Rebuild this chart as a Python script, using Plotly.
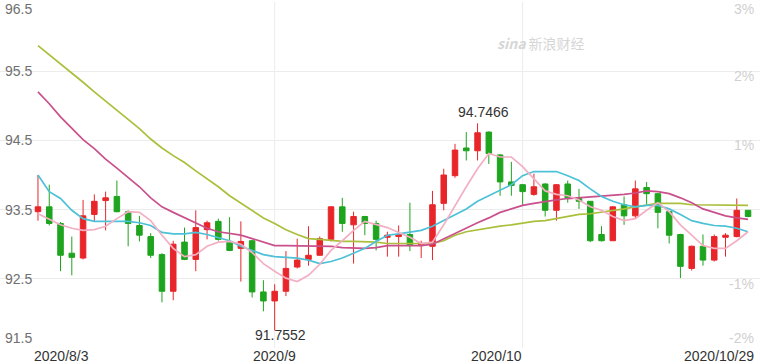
import pandas as pd
import plotly.graph_objects as go

# ---------------- data ----------------
dates = pd.bdate_range("2020-08-03", "2020-10-29")
date_labels = [d.strftime("%Y/%-m/%-d") for d in dates]

opens = [93.47, 93.54, 93.30, 92.87, 92.80, 93.43, 93.63, 93.69, 93.47, 93.27,
         93.11, 92.85, 92.32, 93.03, 92.78, 93.21, 93.33, 93.04, 92.94, 93.05,
         92.31, 92.18, 92.32, 92.67, 92.78, 92.84, 93.07, 93.54, 93.28, 93.40,
         93.30, 93.10, 93.11, 93.14, 92.98, 92.97, 93.59, 93.99, 94.39, 94.35,
         94.62, 94.29, 93.90, 93.86, 93.72, 93.87, 93.49, 93.87, 93.66, 93.62,
         93.14, 93.05, 93.57, 93.41, 93.82, 93.73, 93.47, 93.14, 92.65, 92.97,
         92.77, 93.10, 93.11, 93.49]
highs = [94.00, 93.86, 93.32, 93.11, 93.64, 93.72, 93.76, 93.92, 93.49, 93.41,
         93.16, 92.87, 93.05, 93.24, 93.49, 93.34, 93.37, 93.39, 93.33, 93.06,
         92.48, 92.42, 92.90, 93.08, 93.26, 93.11, 93.55, 93.67, 93.47, 93.41,
         93.34, 93.18, 93.27, 93.60, 93.05, 93.77, 94.09, 94.45, 94.62, 94.7466,
         94.63, 94.30, 94.19, 93.87, 94.02, 93.88, 93.87, 93.92, 93.80, 93.62,
         93.26, 93.55, 93.69, 93.92, 93.90, 93.74, 93.48, 93.15, 92.98, 93.14,
         93.14, 93.16, 93.66, 93.49]
lows = [93.34, 93.27, 92.61, 92.55, 92.78, 93.33, 93.20, 93.46, 92.97, 93.04,
        92.80, 92.16, 92.19, 92.77, 92.61, 93.07, 93.05, 92.90, 92.46, 92.23,
        92.03, 91.7552, 92.25, 92.65, 92.69, 92.83, 93.04, 93.18, 92.72, 93.13,
        92.91, 92.82, 92.82, 92.90, 92.80, 92.77, 93.49, 93.96, 94.21, 94.21,
        94.16, 93.70, 93.70, 93.56, 93.70, 93.40, 93.34, 93.60, 93.51, 93.03,
        93.04, 93.05, 93.28, 93.37, 93.57, 93.23, 93.01, 92.51, 92.62, 92.69,
        92.75, 92.82, 93.10, 93.39]
closes = [93.54, 93.30, 92.84, 92.81, 93.41, 93.62, 93.67, 93.47, 93.30, 93.13,
          92.84, 92.32, 93.00, 92.78, 93.24, 93.31, 93.07, 92.91, 93.04, 92.31,
          92.18, 92.32, 92.65, 92.77, 92.84, 93.08, 93.54, 93.30, 93.40, 93.30,
          93.07, 93.13, 93.14, 92.98, 93.01, 93.57, 94.00, 94.36, 94.35, 94.61,
          94.31, 93.90, 93.85, 93.76, 93.83, 93.49, 93.86, 93.67, 93.62, 93.05,
          93.05, 93.54, 93.41, 93.80, 93.73, 93.46, 93.13, 92.68, 92.97, 92.77,
          93.11, 93.13, 93.49, 93.40]

ma5 = [93.44, 93.36, 93.28, 93.23, 93.20, 93.21, 93.26, 93.37, 93.47, 93.46,
       93.34, 93.13, 92.94, 92.82, 92.85, 92.97, 93.03, 93.04, 93.00, 92.88,
       92.72, 92.61, 92.51, 92.46, 92.55, 92.71, 92.91, 93.05, 93.20, 93.33,
       93.28, 93.24, 93.17, 93.10, 93.01, 93.03, 93.28, 93.56, 93.83, 94.09,
       94.31, 94.26, 94.26, 94.12, 93.95, 93.77, 93.72, 93.70, 93.64, 93.54,
       93.49, 93.40, 93.34, 93.37, 93.49, 93.60, 93.47, 93.28, 93.13, 92.98,
       92.94, 92.94, 93.05, 93.18]
ma10 = [94.00, 93.76, 93.66, 93.49, 93.37, 93.33, 93.33, 93.33, 93.33, 93.31,
        93.27, 93.17, 93.15, 93.15, 93.17, 93.14, 93.10, 93.05, 92.97, 92.91,
        92.85, 92.82, 92.81, 92.80, 92.77, 92.72, 92.75, 92.80, 92.87, 92.94,
        93.04, 93.13, 93.15, 93.18, 93.20, 93.26, 93.34, 93.43, 93.51, 93.62,
        93.70, 93.79, 93.86, 93.99, 94.05, 94.05, 94.05, 93.99, 93.92, 93.80,
        93.69, 93.62, 93.57, 93.54, 93.56, 93.56, 93.51, 93.43, 93.34, 93.30,
        93.27, 93.26, 93.23, 93.18]
ma20 = [95.20, 95.03, 94.84, 94.67, 94.51, 94.38, 94.23, 94.10, 93.97, 93.83,
        93.67, 93.54, 93.46, 93.38, 93.31, 93.23, 93.18, 93.15, 93.13, 93.08,
        93.03, 92.98, 92.98, 92.98, 92.98, 92.97, 92.97, 92.95, 92.94, 92.94,
        92.95, 92.98, 92.98, 92.98, 92.98, 93.00, 93.08, 93.15, 93.23, 93.31,
        93.38, 93.46, 93.51, 93.56, 93.59, 93.62, 93.64, 93.66, 93.67, 93.69,
        93.69, 93.70, 93.72, 93.74, 93.77, 93.76, 93.73, 93.67, 93.60, 93.51,
        93.46, 93.41, 93.38, 93.36]
ma30 = [95.87, 95.74, 95.60, 95.47, 95.34, 95.20, 95.07, 94.94, 94.81, 94.67,
        94.52, 94.39, 94.28, 94.18, 94.06, 93.95, 93.83, 93.70, 93.59, 93.49,
        93.38, 93.30, 93.21, 93.14, 93.08, 93.07, 93.05, 93.04, 93.04, 93.04,
        93.03, 93.01, 93.01, 93.01, 93.01, 93.01, 93.05, 93.13, 93.18, 93.21,
        93.23, 93.26, 93.28, 93.31, 93.33, 93.34, 93.37, 93.40, 93.43, 93.44,
        93.46, 93.49, 93.51, 93.54, 93.57, 93.59, 93.59, 93.59, 93.57, 93.57,
        93.56, 93.56, 93.56, 93.56]

price_ticks = [91.5, 92.5, 93.5, 94.5, 95.5, 96.5]
price_tick_labels = ["91.5", "92.5", "93.5", "94.5", "95.5", "96.5"]
pct_tick_labels = ["-2%", "-1%", "", "1%", "2%", "3%"]
x_tick_labels = ["2020/8/3", "2020/9", "2020/10", "2020/10/29"]
x_tick_dates = ["2020/8/3", "2020/9/1", "2020/10/1", "2020/10/29"]
month_lines = ["2020/9/1", "2020/10/1"]

# ---------------- styling ----------------
RED = "#e8262a"
GREEN = "#1ea41e"
FONT = "Liberation Sans, Arial, sans-serif"

x = list(range(len(dates)))
idx = {lab: i for i, lab in enumerate(date_labels)}

fig = go.Figure()

for name, vals, col in [("MA30", ma30, "#abbf3b"), ("MA20", ma20, "#c9508c"),
                        ("MA10", ma10, "#4cc1d7"), ("MA5", ma5, "#f3afc3")]:
    fig.add_trace(go.Scatter(x=x, y=vals, mode="lines", name=name,
                             line=dict(color=col, width=1.7), hoverinfo="skip"))

fig.add_trace(go.Candlestick(
    x=x, open=opens, high=highs, low=lows, close=closes,
    increasing=dict(line=dict(color=RED, width=1), fillcolor=RED),
    decreasing=dict(line=dict(color=GREEN, width=1), fillcolor=GREEN),
    whiskerwidth=0, name="K"))

shapes = []
for m in month_lines:
    shapes.append(dict(type="line", xref="x", yref="paper", x0=idx[m], x1=idx[m],
                       y0=0, y1=1, line=dict(color="#ececec", width=1), layer="below"))

annotations = []
n = len(price_ticks)
for k, (v, lab, pl) in enumerate(zip(price_ticks, price_tick_labels, pct_tick_labels)):
    ys = 0
    if k == 0:
        ys = 10
    elif k == n - 1:
        ys = -7
    annotations.append(dict(xref="paper", yref="y", x=0, y=v, text=lab,
                            xanchor="left", yanchor="middle", xshift=3, yshift=ys,
                            showarrow=False, font=dict(family=FONT, size=14, color="#6f6f6f")))
    if pl:
        annotations.append(dict(xref="paper", yref="y", x=1, y=v, text=pl,
                                xanchor="right", yanchor="middle", xshift=-4,
                                yshift=(ys if k in (0, n - 1) else -5),
                                showarrow=False,
                                font=dict(family=FONT, size=14, color="#cfcfcf")))

anchors = ["left", "center", "center", "right"]
shifts = [-5, 0, -26, 7]
for lab, d, a, s in zip(x_tick_labels, x_tick_dates, anchors, shifts):
    annotations.append(dict(xref="x", yref="paper", x=idx[d], y=0, text=lab,
                            xanchor=a, yanchor="top", xshift=s, yshift=1, borderpad=0,
                            showarrow=False, font=dict(family=FONT, size=14, color="#333333")))

# max / min labels
imax = highs.index(max(highs))
imin = lows.index(min(lows))
annotations.append(dict(x=imax, y=highs[imax], text=f"{highs[imax]:.4f}", xanchor="center",
                        yanchor="bottom", xshift=6, yshift=1, showarrow=False,
                        font=dict(family=FONT, size=14, color="#333333")))
annotations.append(dict(x=imin, y=lows[imin], text=f"{lows[imin]:.4f}", xanchor="center",
                        yanchor="top", xshift=6, yshift=4, borderpad=0, showarrow=False,
                        font=dict(family=FONT, size=14, color="#333333")))
# watermark
annotations.append(dict(xref="paper", yref="paper", x=587 / 760, y=1 - 30 / 364,
                        text="<i><b>sina</b></i> 新浪财经", showarrow=False,
                        font=dict(family="Noto Sans CJK SC, sans-serif", size=14, color="#d6d6d6")))

fig.update_layout(
    width=760, height=364,
    margin=dict(l=0, r=0, t=2, b=16),
    paper_bgcolor="white", plot_bgcolor="white",
    showlegend=False,
    shapes=shapes, annotations=annotations,
    xaxis=dict(range=[-3.37, 64.06], showgrid=False, zeroline=False,
               showticklabels=False, rangeslider=dict(visible=False), fixedrange=True),
    yaxis=dict(range=[91.5, 96.5], tickvals=price_ticks, showticklabels=False,
               showgrid=True, gridcolor="#ececec", gridwidth=1, zeroline=False, fixedrange=True),
    hovermode=False,
)

fig.write_html("out.html", config={"displayModeBar": False},
               post_script="document.body.style.margin='0';document.body.style.overflow='hidden';")
